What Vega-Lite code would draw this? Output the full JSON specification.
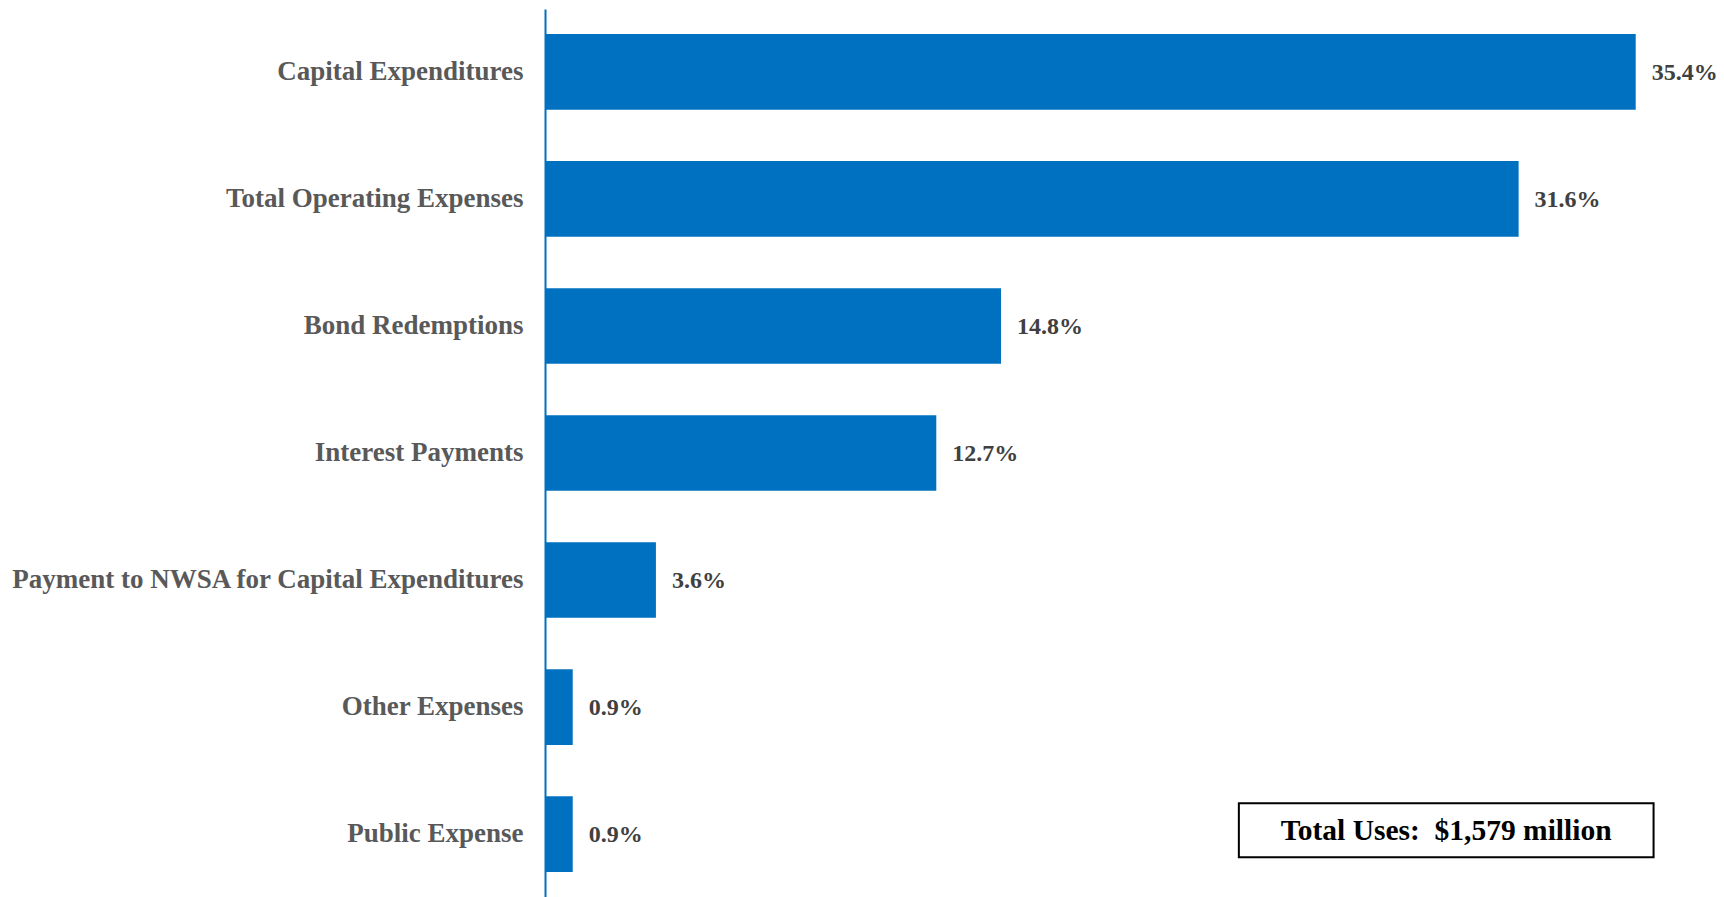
{
  "$schema": "https://vega.github.io/schema/vega-lite/v6.json",
  "autosize": "none",
  "width": 1140,
  "height": 888,
  "padding": {"left": 545, "top": 9, "right": 39, "bottom": 0},
  "background": "white",
  "config": {"view": {"stroke": null}},
  "datasets": {
    "uses": [
      {"category": "Capital Expenditures", "pct": 35.4, "label": "35.4%"},
      {"category": "Total Operating Expenses", "pct": 31.6, "label": "31.6%"},
      {"category": "Bond Redemptions", "pct": 14.8, "label": "14.8%"},
      {"category": "Interest Payments", "pct": 12.7, "label": "12.7%"},
      {"category": "Payment to NWSA for Capital Expenditures", "pct": 3.6, "label": "3.6%"},
      {"category": "Other Expenses", "pct": 0.9, "label": "0.9%"},
      {"category": "Public Expense", "pct": 0.9, "label": "0.9%"}
    ],
    "note": [
      {"category": "Public Expense", "x0": 22.52, "x1": 35.98, "xm": 29.25, "text": "Total Uses:\u00a0\u00a0$1,579 million"}
    ]
  },
  "layer": [
    {
      "data": {"name": "uses"},
      "mark": {"type": "bar", "color": "#0070C0"},
      "encoding": {
        "y": {
          "field": "category", "type": "nominal", "sort": null,
          "scale": {"paddingInner": 0.405, "paddingOuter": 0.197},
          "axis": {
            "title": null, "ticks": false, "domainColor": "#0070C0", "domainWidth": 2,
            "labelFont": "Liberation Serif", "labelFontWeight": "bold", "labelFontSize": 27,
            "labelColor": "#595959", "labelPadding": 22, "labelLimit": 600
          }
        },
        "x": {
          "field": "pct", "type": "quantitative",
          "scale": {"domain": [0, 37], "nice": false},
          "axis": null
        }
      }
    },
    {
      "data": {"name": "uses"},
      "mark": {"type": "text", "align": "left", "baseline": "middle", "dx": 16, "dy": 1,
               "font": "Liberation Serif", "fontWeight": "bold", "fontSize": 24, "color": "#404040"},
      "encoding": {
        "y": {"field": "category", "type": "nominal", "sort": null},
        "x": {"field": "pct", "type": "quantitative"},
        "text": {"field": "label"}
      }
    },
    {
      "data": {"name": "note"},
      "mark": {"type": "rect", "fill": "white", "stroke": "black", "strokeWidth": 2, "height": 54, "yOffset": -4},
      "encoding": {
        "y": {"field": "category", "type": "nominal", "sort": null},
        "x": {"field": "x0", "type": "quantitative"},
        "x2": {"field": "x1"}
      }
    },
    {
      "data": {"name": "note"},
      "mark": {"type": "text", "align": "center", "baseline": "middle", "yOffset": -4, "dy": 1,
               "font": "Liberation Serif", "fontWeight": "bold", "fontSize": 29.5, "color": "black"},
      "encoding": {
        "y": {"field": "category", "type": "nominal", "sort": null},
        "x": {"field": "xm", "type": "quantitative"},
        "text": {"field": "text"}
      }
    }
  ]
}
